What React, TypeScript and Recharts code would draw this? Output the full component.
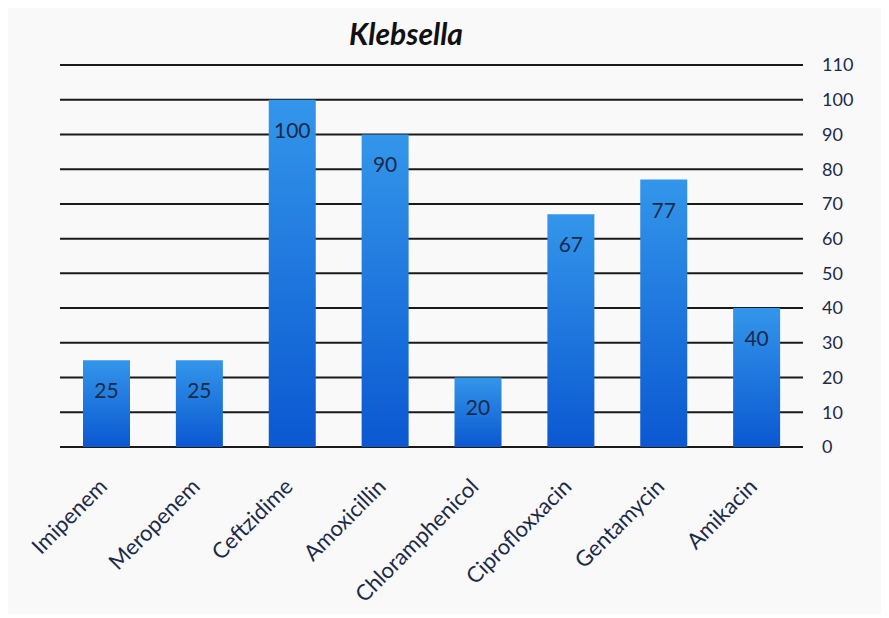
import React from "react";
import { BarChart, Bar, XAxis, YAxis, CartesianGrid, LabelList } from "recharts";

const categories = ["Imipenem", "Meropenem", "Ceftzidime", "Amoxicillin", "Chloramphenicol", "Ciprofloxxacin", "Gentamycin", "Amikacin"];
const values = [25, 25, 100, 90, 20, 67, 77, 40];
const yTicks = [0, 10, 20, 30, 40, 50, 60, 70, 80, 90, 100, 110];
const title = "Klebsella";

const data = categories.map((name, i) => ({ name, value: values[i] }));

const FONT = "Lato, 'Open Sans', sans-serif";
const TEXT = "#1c2a4a";

const XTick = (props: any) => {
  const { x, y, payload } = props;
  return (
    <g transform={`translate(${x + 2},${y + 33})`}>
      <text
        x={0}
        y={0}
        transform="rotate(-45)"
        textAnchor="end"
        fill={TEXT}
        fontSize={22}
        fontFamily={FONT}
      >
        {payload.value}
      </text>
    </g>
  );
};

export default function App() {
  return (
    <div style={{ position: "relative", width: 873, height: 606, background: "#f9f9f9" }}>
      <div
        style={{
          position: "absolute",
          left: 0,
          width: 796,
          top: 10,
          lineHeight: "30px",
          textAlign: "center",
          fontFamily: FONT,
          fontWeight: 700,
          fontStyle: "italic",
          fontSize: 30,
          color: "#111",
        }}
      >
        {title}
      </div>
      <BarChart
        width={873}
        height={606}
        data={data}
        margin={{ top: 57, right: 8, left: 52, bottom: 17 }}
        barCategoryGap={0}
        style={{ overflow: "visible" }}
      >
        <defs>
          <linearGradient id="barGrad" x1="0" y1="0" x2="0" y2="1">
            <stop offset="0%" stopColor="#3396ea" />
            <stop offset="100%" stopColor="#0b58d1" />
          </linearGradient>
        </defs>
        <CartesianGrid vertical={false} stroke="#1a1a1a" strokeWidth={2} />
        <XAxis
          dataKey="name"
          axisLine={false}
          tickLine={false}
          interval={0}
          height={150}
          tick={<XTick />}
        />
        <YAxis
          orientation="right"
          domain={[0, 110]}
          ticks={yTicks}
          interval={0}
          axisLine={false}
          tickLine={false}
          width={70}
          tickMargin={13}
          tick={{ fill: TEXT, fontSize: 18, fontFamily: FONT, textAnchor: "start" }}
        />
        <Bar dataKey="value" fill="url(#barGrad)" barSize={47} isAnimationActive={false}>
          <LabelList
            dataKey="value"
            position="insideTop"
            offset={23}
            fill={TEXT}
            fontSize={21}
            fontFamily={FONT}
          />
        </Bar>
      </BarChart>
    </div>
  );
}
